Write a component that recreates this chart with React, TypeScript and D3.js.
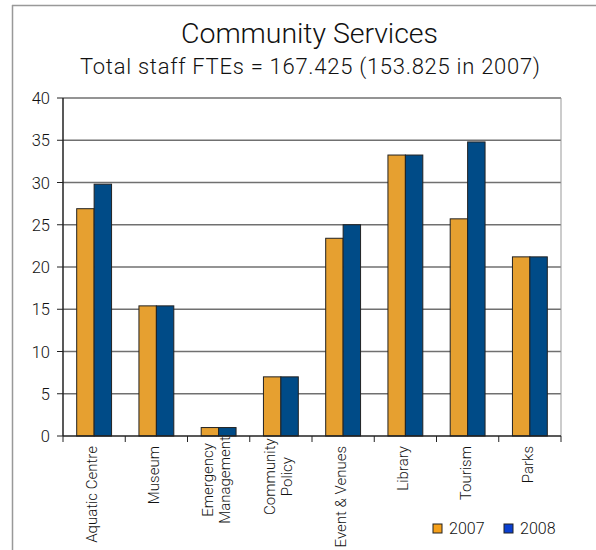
import React from "react";
import * as d3 from "d3";

const categories = [
  ["Aquatic Centre"],
  ["Museum"],
  ["Emergency", "Management"],
  ["Community", "Policy"],
  ["Event & Venues"],
  ["Library"],
  ["Tourism"],
  ["Parks"],
];
const series = ["2007", "2008"];
const values2007 = [26.9, 15.4, 1.0, 7.0, 23.4, 33.25, 25.7, 21.2];
const values2008 = [29.8, 15.4, 1.0, 7.0, 25.0, 33.25, 34.8, 21.2];
const yTicks = [0, 5, 10, 15, 20, 25, 30, 35, 40];

const barColors = ["#E6A030", "#004B87"];
const legendColors = ["#F5A01A", "#0A3FD0"];
const FONT = "Roboto, 'Liberation Sans', Arial, sans-serif";

export default function App() {
  const W = 596, H = 550;
  const left = 63, right = 561, top = 98, bottom = 436;
  const x = d3.scaleBand<number>().domain(d3.range(categories.length)).range([left, right]).paddingInner(0.44).paddingOuter(0.22);
  const xi = d3.scaleBand<number>().domain([0, 1]).range([0, x.bandwidth()]);
  const y = d3.scaleLinear().domain([0, 40]).range([bottom, top]);
  const step = (right - left) / categories.length;
  const data = [values2007, values2008];

  return (
    <svg width={W} height={H} style={{ position: "absolute", left: 0, top: 0, background: "#fff" }}>
      <line x1={12} y1={5.5} x2={W} y2={5.5} stroke="#999" strokeWidth={1.5} />
      <line x1={12.5} y1={5} x2={12.5} y2={H} stroke="#999" strokeWidth={1.5} />
      <text x={181} y={43} textLength={257} lengthAdjust="spacing" fontFamily={FONT} fontWeight={300} fontSize={28.5} fill="#111">Community Services</text>
      <text x={80} y={74} textLength={460} lengthAdjust="spacing" fontFamily={FONT} fontWeight={300} fontSize={22} fill="#111">Total staff FTEs = 167.425 (153.825 in 2007)</text>
      {yTicks.map((t) => (
        <g key={t}>
          {t > 0 && <line x1={left} x2={right} y1={y(t)} y2={y(t)} stroke="#707070" strokeWidth={1.6} />}
          <line x1={57} x2={left} y1={y(t)} y2={y(t)} stroke="#222" strokeWidth={1} />
          <text x={50} y={y(t) + 6} textAnchor="end" fontFamily={FONT} fontWeight={300} fontSize={16.5} fill="#111">{t}</text>
        </g>
      ))}
      <line x1={right} x2={right} y1={top} y2={bottom} stroke="#999" strokeWidth={1} />
      {categories.map((c, i) => (
        <g key={i}>
          {data.map((vals, s) => (
            <rect key={s} x={(x(i) as number) + (xi(s) as number)} y={y(vals[i])} width={xi.bandwidth()} height={bottom - y(vals[i])} fill={barColors[s]} stroke="#222" strokeWidth={1} />
          ))}
        </g>
      ))}
      <line x1={left} x2={left} y1={top} y2={bottom} stroke="#222" strokeWidth={1.5} />
      <line x1={left} x2={right} y1={bottom} y2={bottom} stroke="#222" strokeWidth={1.5} />
      {d3.range(categories.length + 1).map((k) => (
        <line key={k} x1={left + k * step} x2={left + k * step} y1={bottom} y2={bottom + 6} stroke="#222" strokeWidth={1} />
      ))}
      {categories.map((c, i) => {
        const cx = (x(i) as number) + x.bandwidth() / 2;
        const n = c.length;
        return c.map((line, j) => {
          const lx = cx + (j - (n - 1) / 2) * 17 + 3;
          return (
            <text key={i + "-" + j} transform={`translate(${lx},${446}) rotate(-90)`} textAnchor={n > 1 ? "middle" : "end"} dx={n > 1 ? -Math.max(...c.map((s) => s.length)) * 3.4 : 0} fontFamily={FONT} fontWeight={300} fontSize={15} fill="#111">{line}</text>
          );
        });
      })}
      {series.map((s, k) => (
        <g key={s} transform={`translate(${433 + k * 71},524)`}>
          <rect x={0} y={0} width={9} height={9} fill={legendColors[k]} stroke="#222" strokeWidth={1} />
          <text x={16} y={10} fontFamily={FONT} fontWeight={300} fontSize={16} fill="#111">{s}</text>
        </g>
      ))}
    </svg>
  );
}
